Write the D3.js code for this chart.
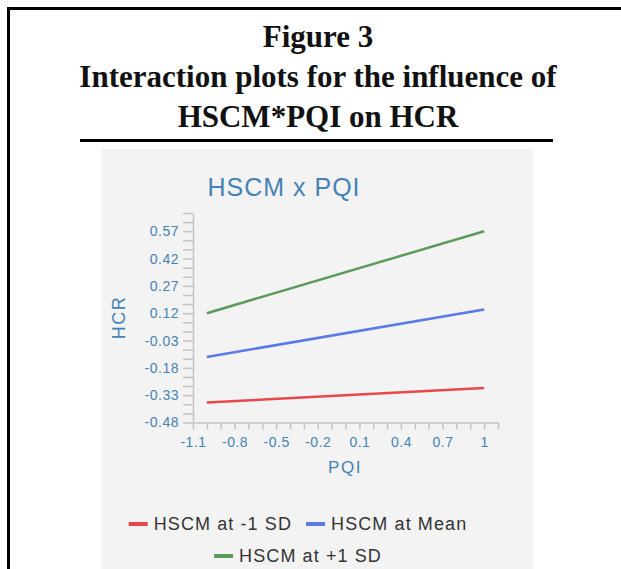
<!DOCTYPE html>
<html>
<head>
<meta charset="utf-8">
<script src="https://cdn.jsdelivr.net/npm/d3@7"></script>
<style>
  body { margin: 0; background: #fff; }
  svg { display: block; }
</style>
</head>
<body>
<svg id="chart"></svg>
<script>
// data
const titleLines = ["Figure 3", "Interaction plots for the influence of", "HSCM*PQI on HCR"];
const pqiValues = [-1, 1];
const seriesNames = ["HSCM at -1 SD", "HSCM at Mean", "HSCM at +1 SD"];
const seriesLow = [-0.37, -0.29];
const seriesMean = [-0.12, 0.14];
const seriesHigh = [0.12, 0.57];
const seriesColors = ["#e8474c", "#5b79e8", "#5c9a5c"];
const yTickLabels = [-0.48, -0.33, -0.18, -0.03, 0.12, 0.27, 0.42, 0.57];
const xTickLabels = [-1.1, -0.8, -0.5, -0.2, 0.1, 0.4, 0.7, 1];

const W = 621, H = 569;
const blue = "#4682b4";
const axisGrey = "#c4c4c4";

const svg = d3.select("#chart").attr("width", W).attr("height", H);

// frame (top + left visible)
svg.append("path")
  .attr("d", `M8.5,${H} V8.5 H${W}`)
  .attr("fill", "none").attr("stroke", "#000").attr("stroke-width", 3);

// figure caption
svg.append("g").selectAll("text")
  .data(titleLines)
  .join("text")
    .attr("x", 318)
    .attr("y", (d, i) => 47 + i * 40)
    .attr("text-anchor", "middle")
    .attr("font-family", "Liberation Serif, serif")
    .attr("font-weight", "bold")
    .attr("font-size", 31)
    .attr("fill", "#111")
    .text(d => d);

svg.append("line")
  .attr("x1", 80).attr("x2", 553).attr("y1", 140.5).attr("y2", 140.5)
  .attr("stroke", "#000").attr("stroke-width", 3);

// chart panel
svg.append("rect")
  .attr("x", 101).attr("y", 149).attr("width", 432).attr("height", H - 149)
  .attr("fill", "#f3f3f3");

svg.append("text")
  .attr("x", 284).attr("y", 196)
  .attr("text-anchor", "middle")
  .attr("font-family", "Liberation Sans, Arial, sans-serif")
  .attr("font-size", 25)
  .attr("letter-spacing", 1)
  .attr("fill", blue)
  .text("HSCM x PQI");

// scales
const x = d3.scaleLinear().domain([-1.1, 1.1]).range([193, 498]);
const y = d3.scaleLinear().domain([-0.48, 0.67]).range([422.5, 213]);

// minor ticks every 0.05 / 0.1, labels every third
const yTicks = d3.range(0, 24).map(i => +(-0.48 + i * 0.05).toFixed(2));
const xTicks = d3.range(0, 23).map(i => +(-1.1 + i * 0.1).toFixed(1));
const fmtY = d => d3.format(".2f")(d).replace("\u2212", "-");
const fmtX = d => d3.format("~g")(d).replace("\u2212", "-");

const yAxis = svg.append("g")
  .attr("transform", "translate(193,0)")
  .call(d3.axisLeft(y)
    .tickValues(yTicks)
    .tickSize(10)
    .tickSizeOuter(0)
    .tickPadding(4)
    .tickFormat(d => yTickLabels.some(v => Math.abs(v - d) < 1e-6) ? fmtY(d) : ""));

const xAxis = svg.append("g")
  .attr("transform", "translate(0,422.5)")
  .call(d3.axisBottom(x)
    .tickValues(xTicks)
    .tickSize(7)
    .tickSizeOuter(0)
    .tickPadding(8)
    .tickFormat(d => xTickLabels.some(v => Math.abs(v - d) < 1e-6) ? fmtX(d) : ""));

[yAxis, xAxis].forEach(a => {
  a.select(".domain").attr("stroke", axisGrey).attr("stroke-width", 1.5);
  a.selectAll(".tick line").attr("stroke", axisGrey).attr("stroke-width", 1.5);
  a.selectAll(".tick text")
    .attr("fill", blue)
    .attr("font-family", "Liberation Sans, Arial, sans-serif")
    .attr("font-size", 14)
    .attr("letter-spacing", 0.5);
});

// axis titles
svg.append("text")
  .attr("transform", "translate(125,317.5) rotate(-90)")
  .attr("text-anchor", "middle")
  .attr("font-family", "Liberation Sans, Arial, sans-serif")
  .attr("font-size", 18)
  .attr("letter-spacing", 1.5)
  .attr("fill", blue)
  .text("HCR");

svg.append("text")
  .attr("x", 345).attr("y", 473)
  .attr("text-anchor", "middle")
  .attr("font-family", "Liberation Sans, Arial, sans-serif")
  .attr("font-size", 17)
  .attr("letter-spacing", 1.5)
  .attr("fill", blue)
  .text("PQI");

// lines
const series = [seriesLow, seriesMean, seriesHigh].map((vals, i) => ({
  name: seriesNames[i],
  color: seriesColors[i],
  points: vals.map((v, j) => ({ x: pqiValues[j], y: v }))
}));

const line = d3.line().x(d => x(d.x)).y(d => y(d.y));

svg.append("g").selectAll("path")
  .data(series)
  .join("path")
    .attr("fill", "none")
    .attr("stroke", d => d.color)
    .attr("stroke-width", 2.5)
    .attr("d", d => line(d.points));

// legend, two rows centred
const legendRows = [[0, 1], [2]];
const legendCenter = 298;
const legend = svg.append("g");
legendRows.forEach((row, r) => {
  const rowG = legend.append("g");
  let cx = 0;
  row.forEach(idx => {
    const item = rowG.append("g").attr("transform", `translate(${cx},0)`);
    item.append("rect")
      .attr("x", 0).attr("y", -8).attr("width", 19).attr("height", 4)
      .attr("fill", series[idx].color);
    const t = item.append("text")
      .attr("x", 25).attr("y", 0)
      .attr("font-family", "Liberation Sans, Arial, sans-serif")
      .attr("font-size", 18)
      .attr("letter-spacing", 1.1)
      .attr("fill", "#333")
      .text(series[idx].name);
    cx += 25 + t.node().getComputedTextLength() + 14;
  });
  const rowW = cx - 14;
  rowG.attr("transform", `translate(${legendCenter - rowW / 2},${530 + r * 32})`);
});
</script>
</body>
</html>
